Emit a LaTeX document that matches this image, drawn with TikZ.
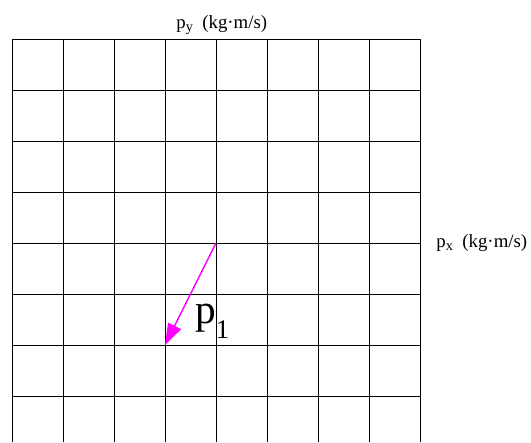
\documentclass[tikz,border=0pt]{standalone}
\usepackage{fontspec}
\setmainfont{Liberation Serif}
\usetikzlibrary{arrows.meta, positioning}
\definecolor{vecmag}{RGB}{255,0,255}
\newcommand{\lowsub}[3]{\raisebox{-#1}{\fontsize{#2}{#2}\selectfont #3}}

\begin{document}
\begin{tikzpicture}[
  x=1cm, y=1cm,
  gridline/.style={draw=black, line width=0.5pt},
  axlabel/.style={inner sep=0pt, font=\fontsize{10.5}{12}\selectfont},
  momentum/.style={-{Triangle[length=12pt,width=8pt]}, draw=vecmag, fill=vecmag, line width=0.8pt},
  veclabel/.style={inner sep=0pt, font=\fontsize{23}{26}\selectfont}
]
\useasboundingbox (-0.235,0.765) rectangle (10.176,-7.902);

% grid
\foreach \i in {0,...,8}
  \draw[gridline] (\i,0) -- (\i,-7.902);
\foreach \j in {0,...,7}
  \draw[gridline] (0,-\j) -- (8,-\j);

% axis labels
\node[axlabel, anchor=base west] (py) at (3.216,0.216) {p\lowsub{1.8pt}{8}{y}~ (kg·m/s)};
\node[axlabel, anchor=west] (px) at (8.314,-4) {p\lowsub{1.8pt}{8}{x}~ (kg·m/s)};

% vector
\coordinate (origin) at (4,-4);
\coordinate (tip) at (3,-6);
\draw[momentum] (origin) -- (tip);
\node[veclabel, anchor=base west] (p1) at (3.588,-5.569) {p\lowsub{8.4pt}{15}{1}};

\end{tikzpicture}
\end{document}
